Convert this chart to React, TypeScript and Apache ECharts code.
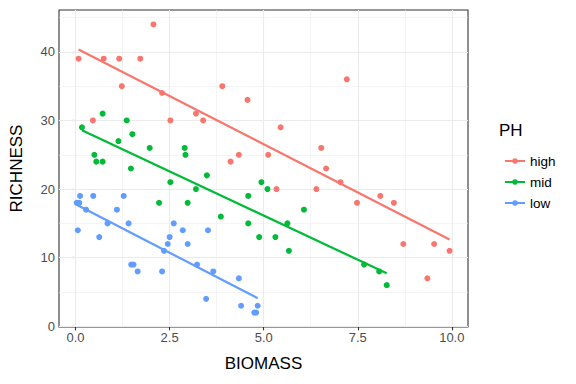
import React, { useEffect, useRef } from "react";
import * as echarts from "echarts";

const highX = [2.07, 0.08, 0.75, 1.16, 1.72, 1.23, 2.30, 3.90, 4.57, 0.46, 3.20, 2.52, 3.39, 4.12, 4.34, 7.21, 5.45, 5.12, 6.53, 6.66, 5.34, 6.40, 7.04, 7.48, 8.10, 8.46, 8.71, 9.53, 9.94, 9.35];
const highY = [44, 39, 39, 39, 39, 35, 34, 35, 33, 30, 31, 30, 30, 24, 25, 36, 29, 25, 26, 23, 20, 20, 21, 18, 19, 18, 12, 12, 11, 7];

const midX = [0.72, 0.17, 1.36, 1.51, 1.14, 0.50, 0.55, 0.72, 1.47, 1.97, 2.90, 2.92, 3.49, 2.52, 3.20, 4.94, 2.22, 2.98, 4.59, 3.86, 4.59, 4.88, 5.10, 6.07, 5.63, 5.31, 5.67, 7.67, 8.07, 8.27];
const midY = [31, 29, 30, 28, 27, 25, 24, 24, 23, 26, 26, 25, 22, 21, 20, 21, 18, 18, 19, 16, 15, 13, 20, 17, 15, 13, 11, 9, 8, 6];

const lowX = [0.12, 0.47, 1.28, 0.03, 0.10, 0.28, 1.10, 0.85, 1.41, 2.61, 0.06, 0.63, 2.85, 3.52, 2.50, 2.45, 2.98, 2.35, 1.48, 1.54, 1.65, 2.30, 3.23, 3.66, 4.34, 3.47, 4.40, 4.84, 4.75, 4.80];
const lowY = [19, 19, 19, 18, 18, 17, 17, 15, 15, 15, 14, 13, 14, 14, 13, 12, 12, 11, 9, 9, 8, 8, 9, 8, 7, 4, 3, 3, 2, 2];

const groups = ["high", "mid", "low"];
const colors = ["#F8766D", "#00BA38", "#619CFF"];
const xTicks = [0, 2.5, 5, 7.5, 10];
const xMinor = [1.25, 3.75, 6.25, 8.75];
const yTicks = [0, 10, 20, 30, 40];
const yMinor = [5, 15, 25, 35, 45];

function fit(xs: number[], ys: number[]) {
  const n = xs.length;
  const mx = xs.reduce((a, b) => a + b, 0) / n;
  const my = ys.reduce((a, b) => a + b, 0) / n;
  let sxy = 0, sxx = 0;
  for (let i = 0; i < n; i++) {
    sxy += (xs[i] - mx) * (ys[i] - my);
    sxx += (xs[i] - mx) * (xs[i] - mx);
  }
  const b = sxy / sxx;
  const a = my - b * mx;
  const x0 = Math.min(...xs), x1 = Math.max(...xs);
  return [[x0, a + b * x0], [x1, a + b * x1]];
}

const FONT = "Liberation Sans, Arial, sans-serif";

export default function App() {
  const ref = useRef<HTMLDivElement>(null);
  useEffect(() => {
    if (!ref.current) return;
    const chart = echarts.init(ref.current, null, { renderer: "svg" });
    const xs = [highX, midX, lowX];
    const ys = [highY, midY, lowY];
    const lineSeries = groups.map((g, i) => ({
      name: g,
      type: "line",
      data: fit(xs[i], ys[i]),
      symbol: "circle",
      symbolSize: 6,
      showSymbol: false,
      z: 4,
      lineStyle: { color: colors[i], width: 2.2 },
      itemStyle: { color: colors[i] },
      silent: true,
    }));
    const scatterSeries = groups.map((g, i) => ({
      name: g,
      type: "scatter",
      data: xs[i].map((x, j) => [x, ys[i][j]]),
      symbol: "circle",
      symbolSize: 6,
      z: 3,
      itemStyle: { color: colors[i], opacity: 1 },
      silent: true,
    }));
    const gridLines = {
      name: "grid",
      type: "scatter",
      data: [],
      z: 1,
      silent: true,
      markLine: {
        z: 1,
        silent: true,
        symbol: ["none", "none"],
        label: { show: false },
        animation: false,
        lineStyle: { color: "#ebebeb", type: "solid" },
        emphasis: { disabled: true },
        data: [
          ...xMinor.map((v) => ({ xAxis: v, lineStyle: { width: 0.55, color: "#ebebeb", type: "solid" } })),
          ...yMinor.map((v) => ({ yAxis: v, lineStyle: { width: 0.55, color: "#ebebeb", type: "solid" } })),
          ...xTicks.map((v) => ({ xAxis: v, lineStyle: { width: 1.1, color: "#ebebeb", type: "solid" } })),
          ...yTicks.map((v) => ({ yAxis: v, lineStyle: { width: 1.1, color: "#ebebeb", type: "solid" } })),
        ],
      },
    };
    chart.setOption({
      animation: false,
      textStyle: { fontFamily: FONT },
      grid: {
        left: 58,
        top: 10,
        right: 108,
        bottom: 57,
        show: true,
        borderColor: "#333333",
        borderWidth: 1.1,
        backgroundColor: "#ffffff",
        containLabel: false,
      },
      xAxis: {
        type: "value",
        min: -0.44,
        max: 10.43,
        name: "BIOMASS",
        nameLocation: "middle",
        nameGap: 28,
        nameTextStyle: { fontSize: 17, color: "#000", fontFamily: FONT },
        axisLine: { show: false },
        splitLine: { show: false },
        axisTick: { show: true, length: 4, customValues: xTicks, lineStyle: { color: "#333333", width: 1.1 } },
        axisLabel: {
          customValues: xTicks,
          formatter: (v: number) => v.toFixed(1),
          color: "#4d4d4d",
          fontSize: 13,
          margin: 4,
          fontFamily: FONT,
        },
      },
      yAxis: {
        type: "value",
        min: -0.1,
        max: 46.1,
        name: "RICHNESS",
        nameLocation: "middle",
        nameGap: 34,
        nameTextStyle: { fontSize: 17, color: "#000", fontFamily: FONT },
        axisLine: { show: false },
        splitLine: { show: false },
        axisTick: { show: true, length: 4, customValues: yTicks, lineStyle: { color: "#333333", width: 1.1 } },
        axisLabel: {
          customValues: yTicks,
          formatter: (v: number) => String(Math.round(v)),
          color: "#4d4d4d",
          fontSize: 13,
          margin: 4,
          fontFamily: FONT,
        },
      },
      legend: {
        data: groups,
        orient: "vertical",
        left: 499,
        top: 149,
        itemWidth: 20,
        itemHeight: 7,
        itemGap: 7,
        selectedMode: false,
        textStyle: { fontSize: 13.5, color: "#000", fontFamily: FONT },
      },
      graphic: [
        {
          type: "text",
          left: 499,
          top: 122,
          style: { text: "PH", fontSize: 17, fill: "#000", fontFamily: FONT },
        },
      ],
      series: [gridLines, ...lineSeries, ...scatterSeries],
    });
    return () => chart.dispose();
  }, []);
  return <div ref={ref} style={{ width: 576, height: 384, position: "absolute", left: 0, top: 0 }} />;
}
